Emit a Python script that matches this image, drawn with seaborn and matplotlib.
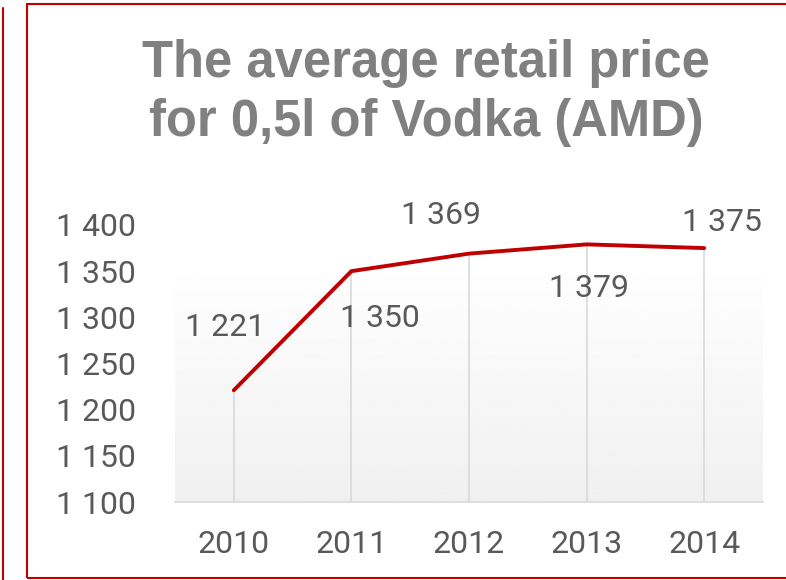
import numpy as np
import pandas as pd
import seaborn as sns
import matplotlib.pyplot as plt
from matplotlib.patches import Rectangle
from matplotlib.lines import Line2D
from matplotlib.ticker import FuncFormatter

years = ["2010", "2011", "2012", "2013", "2014"]
prices = [1221, 1350, 1369, 1379, 1375]
y_ticks = [1100, 1150, 1200, 1250, 1300, 1350, 1400]
title_lines = ["The average retail price", "for 0,5l of Vodka (AMD)"]

# label offsets (pixels) from each point, Excel-style placement
label_offsets = [(-9, 63), (29, -47), (-28, 38), (2, -44), (18, 26)]

sns.set_theme(style="white")
plt.rcParams["font.family"] = ["Roboto", "DejaVu Sans"]

df = pd.DataFrame({"pos": np.arange(len(years)), "price": prices})

fig = plt.figure(figsize=(7.86, 5.8), dpi=100)
ax = fig.add_axes([175 / 786, 1 - 502 / 580, 588 / 786, 277 / 580])

ax.set_xlim(-0.5, len(years) - 0.5)
ax.set_ylim(1100, 1400)

# gradient plot-area fill
grad = np.linspace(0.94, 1.0, 256).reshape(-1, 1)
ax.imshow(grad, cmap="gray", vmin=0, vmax=1, aspect="auto", origin="lower",
          extent=(-0.5, len(years) - 0.5, 1100, 1364), zorder=0)

# drop lines from each point down to the axis
ax.vlines(df["pos"], 1100, df["price"], color="#d9d9d9", lw=1.2, zorder=1)

sns.lineplot(data=df, x="pos", y="price", ax=ax, color="#c00000", lw=2.8,
             zorder=3, solid_capstyle="round", solid_joinstyle="miter")

fmt = lambda v: f"{int(v):,}".replace(",", " ")
for (x, y), (dx, dy) in zip(zip(df["pos"], df["price"]), label_offsets):
    ax.annotate(fmt(y), (x, y), xytext=(dx, dy), textcoords="offset pixels",
                ha="center", va="center", fontsize=23, color="#595959")

ax.set_xticks(df["pos"])
ax.set_xticklabels(years)
ax.set_yticks(y_ticks)
ax.yaxis.set_major_formatter(FuncFormatter(lambda v, _: fmt(v)))
ax.tick_params(axis="x", length=0, pad=20, labelsize=23, colors="#595959")
ax.tick_params(axis="y", length=0, pad=28, labelsize=23, colors="#595959")
ax.set_xlabel("")
ax.set_ylabel("")

for side in ["top", "right", "left"]:
    ax.spines[side].set_visible(False)
ax.spines["bottom"].set_color("#d9d9d9")
ax.spines["bottom"].set_linewidth(1.2)
ax.set_ylim(1100, 1400)
ax.set_facecolor("none")

# title
for i, line in enumerate(title_lines):
    fig.text(426 / 786, 1 - (77 + i * 59) / 580, line, ha="center", va="baseline",
             fontsize=36.5, fontweight="bold", color="#808080",
             family=["Liberation Sans", "DejaVu Sans"])

# red frames
fig.patches.append(Rectangle((27 / 786, 2 / 580), 800 / 786, 574 / 580,
                             transform=fig.transFigure, fill=False,
                             edgecolor="#c00000", lw=1.5))
fig.lines.append(Line2D([3 / 786, 3 / 786], [0, 1 - 8 / 580],
                        transform=fig.transFigure, color="#c00000", lw=1.5))

fig.savefig("out.png", dpi=100)
